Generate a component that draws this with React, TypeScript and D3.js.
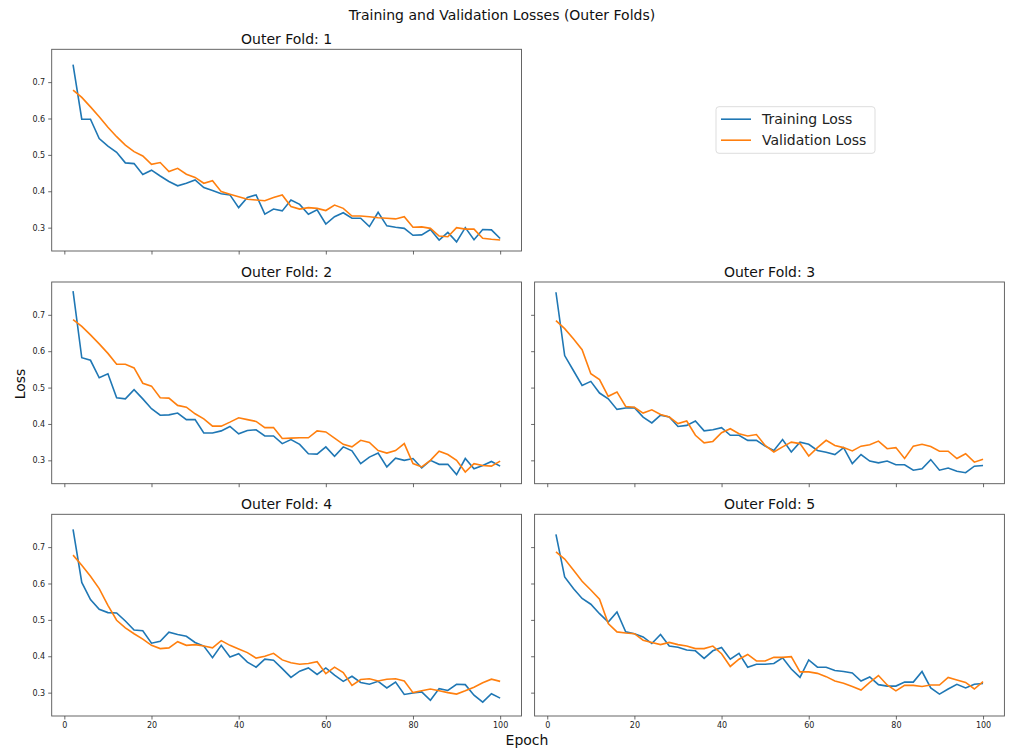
import React, { useEffect, useRef } from "react";
import * as d3 from "d3";

const width = 1014;
const height = 749;
const font = "DejaVu Sans, sans-serif";

const epochs = [
  2, 4, 6, 8, 10, 12, 14, 16, 18, 20, 22, 24, 26, 28, 30, 32, 34, 36, 38, 40,
  42, 44, 46, 48, 50, 52, 54, 56, 58, 60, 62, 64, 66, 68, 70, 72, 74, 76, 78, 80,
  82, 84, 86, 88, 90, 92, 94, 96, 98, 100,
];

const train1 = [
  0.748, 0.598, 0.598, 0.545, 0.524, 0.507, 0.478, 0.476, 0.446, 0.458,
  0.442, 0.427, 0.415, 0.422, 0.431, 0.41, 0.402, 0.393, 0.39, 0.355,
  0.383, 0.39, 0.337, 0.351, 0.346, 0.376, 0.364, 0.337, 0.349, 0.31,
  0.33, 0.341, 0.326, 0.326, 0.303, 0.342, 0.305, 0.301, 0.298, 0.279,
  0.28, 0.295, 0.266, 0.287, 0.261, 0.3, 0.267, 0.295, 0.294, 0.27,
];
const val1 = [
  0.678, 0.658, 0.632, 0.605, 0.576, 0.55, 0.527, 0.509, 0.497, 0.474,
  0.479, 0.454, 0.463, 0.447, 0.438, 0.422, 0.429, 0.399, 0.392, 0.385,
  0.378, 0.376, 0.374, 0.383, 0.39, 0.358, 0.351, 0.355, 0.353, 0.347,
  0.362, 0.353, 0.332, 0.332, 0.33, 0.327, 0.326, 0.324, 0.33, 0.301,
  0.302, 0.298, 0.277, 0.275, 0.3, 0.296, 0.296, 0.271, 0.268, 0.266,
];

const train2 = [
  0.765, 0.582, 0.575, 0.527, 0.538, 0.472, 0.469, 0.494, 0.469, 0.442,
  0.424, 0.425, 0.43, 0.412, 0.412, 0.375, 0.375, 0.381, 0.393, 0.373,
  0.382, 0.384, 0.367, 0.367, 0.346, 0.357, 0.344, 0.318, 0.317, 0.337,
  0.311, 0.337, 0.326, 0.291, 0.309, 0.32, 0.282, 0.306, 0.3, 0.305,
  0.279, 0.3, 0.289, 0.289, 0.261, 0.305, 0.277, 0.286, 0.297, 0.284,
];
const val2 = [
  0.687, 0.668, 0.645, 0.62, 0.594, 0.564, 0.564, 0.554, 0.512, 0.504,
  0.472, 0.471, 0.451, 0.446, 0.428, 0.414, 0.394, 0.394, 0.405, 0.417,
  0.412, 0.407, 0.39, 0.39, 0.36, 0.361, 0.362, 0.362, 0.381, 0.378,
  0.361, 0.344, 0.337, 0.355, 0.349, 0.327, 0.32, 0.327, 0.346, 0.291,
  0.282, 0.3, 0.325, 0.316, 0.3, 0.268, 0.291, 0.286, 0.284, 0.298,
];

const train3 = [
  0.762, 0.588, 0.547, 0.506, 0.517, 0.485, 0.469, 0.44, 0.444, 0.445,
  0.419, 0.403, 0.424, 0.419, 0.393, 0.396, 0.408, 0.381, 0.384, 0.39,
  0.369, 0.369, 0.355, 0.355, 0.339, 0.327, 0.357, 0.323, 0.35, 0.344,
  0.327, 0.322, 0.316, 0.335, 0.291, 0.316, 0.298, 0.293, 0.298, 0.288,
  0.288, 0.273, 0.277, 0.302, 0.273, 0.279, 0.27, 0.266, 0.284, 0.286,
];
const val3 = [
  0.684, 0.662, 0.634, 0.604, 0.538, 0.522, 0.476, 0.488, 0.448, 0.446,
  0.43, 0.439, 0.426, 0.419, 0.401, 0.408, 0.369, 0.348, 0.352, 0.376,
  0.387, 0.373, 0.367, 0.371, 0.341, 0.323, 0.337, 0.35, 0.346, 0.312,
  0.335, 0.355, 0.341, 0.335, 0.326, 0.339, 0.343, 0.353, 0.332, 0.335,
  0.305, 0.339, 0.344, 0.338, 0.325, 0.325, 0.305, 0.318, 0.295, 0.303,
];

const train4 = [
  0.749, 0.603, 0.556, 0.529, 0.52, 0.519, 0.497, 0.472, 0.47, 0.436,
  0.441, 0.466, 0.46, 0.455, 0.438, 0.428, 0.396, 0.43, 0.398, 0.407,
  0.384, 0.37, 0.392, 0.389, 0.366, 0.342, 0.359, 0.368, 0.35, 0.368,
  0.348, 0.331, 0.345, 0.328, 0.323, 0.331, 0.313, 0.329, 0.295, 0.299,
  0.302, 0.279, 0.311, 0.306, 0.323, 0.322, 0.293, 0.274, 0.297, 0.285,
];
const val4 = [
  0.678, 0.65, 0.62, 0.586, 0.54, 0.499, 0.478, 0.462, 0.447, 0.43,
  0.421, 0.423, 0.44, 0.43, 0.432, 0.428, 0.423, 0.443, 0.43, 0.42,
  0.41, 0.395, 0.4, 0.408, 0.39, 0.382, 0.378, 0.38, 0.385, 0.352,
  0.37, 0.355, 0.32, 0.336, 0.338, 0.332, 0.337, 0.338, 0.332, 0.3,
  0.305, 0.31, 0.305, 0.3, 0.296, 0.305, 0.315, 0.327, 0.337, 0.331,
];

const train5 = [
  0.735, 0.618, 0.586, 0.559, 0.543, 0.517, 0.494, 0.522, 0.467, 0.462,
  0.453, 0.435, 0.46, 0.428, 0.425, 0.417, 0.415, 0.394, 0.415, 0.424,
  0.392, 0.408, 0.37, 0.378, 0.378, 0.38, 0.396, 0.365, 0.342, 0.39,
  0.37, 0.37, 0.361, 0.358, 0.354, 0.332, 0.343, 0.322, 0.318, 0.318,
  0.329, 0.329, 0.358, 0.313, 0.296, 0.31, 0.323, 0.313, 0.323, 0.325,
];
const val5 = [
  0.687, 0.667, 0.637, 0.606, 0.582, 0.557, 0.49, 0.467, 0.464, 0.462,
  0.444, 0.438, 0.432, 0.438, 0.432, 0.428, 0.421, 0.421, 0.428, 0.407,
  0.372, 0.392, 0.405, 0.387, 0.387, 0.397, 0.397, 0.399, 0.357, 0.357,
  0.353, 0.344, 0.332, 0.326, 0.317, 0.307, 0.328, 0.347, 0.321, 0.305,
  0.32, 0.32, 0.317, 0.321, 0.321, 0.342, 0.335, 0.328, 0.31, 0.33,
];

const folds = ["1", "2", "3", "4", "5"];
const trainSeries = [train1, train2, train3, train4, train5];
const valSeries = [val1, val2, val3, val4, val5];
const seriesNames = ["Training Loss", "Validation Loss"];
const seriesColors = ["#1f77b4", "#ff7f0e"];
const xTicks = [0, 20, 40, 60, 80, 100];
const yTicks = [0.3, 0.4, 0.5, 0.6, 0.7];

// grid: fold -> [row, col]
const cells = [
  [0, 0],
  [1, 0],
  [1, 1],
  [2, 0],
  [2, 1],
];
const colLeft = [51.7, 534.6];
const panelW = 469.8;
const rowTop = [49.3, 282, 514.3];
const panelH = 201.7;

// shared axes, matplotlib-like 5% margins
const xExt = d3.extent(epochs) as [number, number];
const xPad = (xExt[1] - xExt[0]) * 0.05;
const xDomain = [xExt[0] - xPad, xExt[1] + xPad];
const allY = [...trainSeries.flat(), ...valSeries.flat()];
const yExt = d3.extent(allY) as [number, number];
const yPad = (yExt[1] - yExt[0]) * 0.05;
const yDomain = [yExt[0] - yPad, yExt[1] + yPad];

function Panel({ idx }: { idx: number }) {
  const xAxis = useRef<SVGGElement>(null);
  const yAxis = useRef<SVGGElement>(null);
  const [row, col] = cells[idx];
  const left = colLeft[col];
  const top = rowTop[row];
  const showX = row === 2;
  const showY = col === 0;

  const x = d3.scaleLinear().domain(xDomain).range([0, panelW]);
  const y = d3.scaleLinear().domain(yDomain).range([panelH, 0]);

  useEffect(() => {
    const ax = d3
      .axisBottom(x)
      .tickValues(xTicks)
      .tickSizeOuter(0)
      .tickSize(3.5)
      .tickPadding(3)
      .tickFormat((d) => (showX ? `${d}` : ""));
    const ay = d3
      .axisLeft(y)
      .tickValues(yTicks)
      .tickSizeOuter(0)
      .tickSize(3.5)
      .tickPadding(3)
      .tickFormat((d) => (showY ? d3.format(".1f")(d as number) : ""));
    [
      [xAxis.current, ax],
      [yAxis.current, ay],
    ].forEach(([node, axis]: any) => {
      if (!node) return;
      const g = d3.select(node);
      g.call(axis);
      g.select(".domain").remove();
      g.attr("font-size", 8).attr("font-family", font);
      g.selectAll("line").attr("stroke", "#444").attr("stroke-width", 0.8);
      g.selectAll("text").attr("fill", "#222");
    });
  });

  const line = d3
    .line<number>()
    .x((d, i) => x(epochs[i]))
    .y((d) => y(d));

  return (
    <g transform={`translate(${left},${top})`}>
      <text
        x={panelW / 2}
        y={-5}
        textAnchor="middle"
        fontSize={14}
        fontFamily={font}
        fill="#111"
      >
        {`Outer Fold: ${folds[idx]}`}
      </text>
      <path
        d={line(trainSeries[idx]) || ""}
        fill="none"
        stroke={seriesColors[0]}
        strokeWidth={1.6}
      />
      <path
        d={line(valSeries[idx]) || ""}
        fill="none"
        stroke={seriesColors[1]}
        strokeWidth={1.6}
      />
      <rect
        x={0}
        y={0}
        width={panelW}
        height={panelH}
        fill="none"
        stroke="#555"
        strokeWidth={0.9}
      />
      <g ref={xAxis} transform={`translate(0,${panelH})`} />
      <g ref={yAxis} />
    </g>
  );
}

export default function App() {
  return (
    <svg
      width={width}
      height={height}
      style={{ position: "absolute", left: 0, top: 0, background: "#fff" }}
    >
      <rect width={width} height={height} fill="#fff" />
      <text
        x={502}
        y={20}
        textAnchor="middle"
        fontSize={14}
        fontFamily={font}
        fill="#111"
      >
        Training and Validation Losses (Outer Folds)
      </text>
      {folds.map((f, i) => (
        <Panel key={f} idx={i} />
      ))}
      <text
        transform="translate(25,384) rotate(-90)"
        textAnchor="middle"
        fontSize={14}
        fontFamily={font}
        fill="#111"
      >
        Loss
      </text>
      <text
        x={527}
        y={745}
        textAnchor="middle"
        fontSize={14}
        fontFamily={font}
        fill="#111"
      >
        Epoch
      </text>
      <g transform="translate(716,106.7)">
        <rect
          width={159}
          height={46.6}
          rx={3}
          fill="#fff"
          stroke="#d9d9d9"
          strokeWidth={0.9}
        />
        {seriesNames.map((name, i) => (
          <g key={name} transform={`translate(0,${12.5 + i * 21})`}>
            <line
              x1={5}
              x2={35}
              y1={0}
              y2={0}
              stroke={seriesColors[i]}
              strokeWidth={1.6}
            />
            <text
              x={46}
              y={5}
              fontSize={14}
              fontFamily={font}
              fill="#222"
            >
              {name}
            </text>
          </g>
        ))}
      </g>
    </svg>
  );
}
